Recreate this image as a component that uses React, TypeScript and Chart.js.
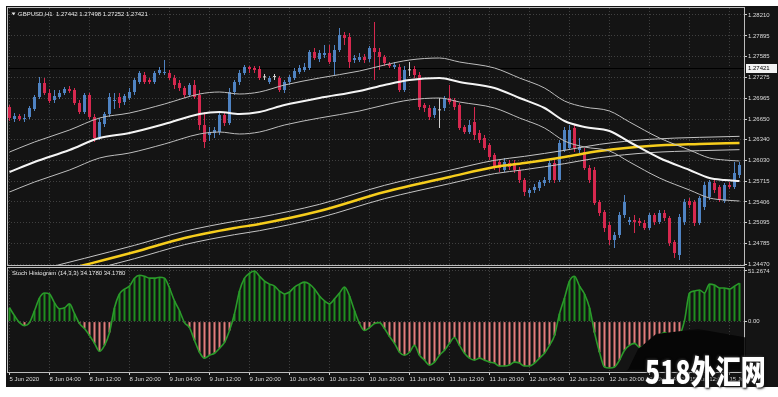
import React, { useEffect, useRef } from 'react';
import { Chart, registerables } from 'chart.js';

Chart.register(...registerables);

// ---------- DATA ----------
const symbolTitle = 'GBPUSD,H1  1.27442 1.27498 1.27252 1.27421';
const stochTitle = 'Stoch Histogram (14,3,3) 34.1780 34.1780';
const currentPrice = 1.27421;

const openPrices = [
  1.26830, 1.26650, 1.26695, 1.26650, 1.26680, 1.26800, 1.26980, 1.27190, 1.27040, 1.26935,
  1.26980, 1.27040, 1.27100, 1.27085, 1.26890, 1.26755, 1.27010, 1.26680, 1.26380, 1.26575,
  1.26725, 1.26920, 1.26980, 1.26905, 1.26965, 1.27055, 1.27205, 1.27310, 1.27235, 1.27205,
  1.27340, 1.27340, 1.27340, 1.27265, 1.27190, 1.27115, 1.27010, 1.27160, 1.27010, 1.26560,
  1.26410, 1.26440, 1.26455, 1.26710, 1.26590, 1.27055, 1.27205, 1.27340, 1.27430, 1.27415,
  1.27400, 1.27280, 1.27205, 1.27280, 1.27265, 1.27085, 1.27205, 1.27265, 1.27355, 1.27385,
  1.27415, 1.27655, 1.27550, 1.27610, 1.27640, 1.27505, 1.27685, 1.27910, 1.27880, 1.27535,
  1.27535, 1.27580, 1.27550, 1.27715, 1.27655, 1.27580, 1.27475, 1.27430, 1.27430, 1.27085,
  1.27385, 1.27400, 1.27310, 1.26860, 1.26815, 1.26710, 1.26785, 1.26815, 1.26965, 1.26935,
  1.26860, 1.26530, 1.26455, 1.26605, 1.26440, 1.26365, 1.26260, 1.26110, 1.26005, 1.25885,
  1.25990, 1.25990, 1.25885, 1.25735, 1.25540, 1.25585, 1.25615, 1.25690, 1.25735, 1.25990,
  1.25735, 1.26185, 1.26215, 1.26515, 1.26185, 1.26155, 1.25915, 1.25885, 1.25405, 1.25255,
  1.25060, 1.24835, 1.24910, 1.25210, 1.25105, 1.25135, 1.25120, 1.25090, 1.25015, 1.25210,
  1.25105, 1.25240, 1.25165, 1.24805, 1.24610, 1.25105, 1.25420, 1.25405, 1.25090, 1.25330,
  1.25480, 1.25690, 1.25630, 1.25420, 1.25660, 1.25630, 1.25810,
];
const highPrices = [
  1.26860, 1.26740, 1.26725, 1.26725, 1.26845, 1.27010, 1.27280, 1.27265, 1.27100, 1.27085,
  1.27085, 1.27130, 1.27145, 1.27115, 1.26935, 1.27040, 1.27040, 1.26725, 1.26665, 1.26755,
  1.27040, 1.27040, 1.27040, 1.27025, 1.27115, 1.27265, 1.27370, 1.27355, 1.27265, 1.27370,
  1.27430, 1.27535, 1.27385, 1.27310, 1.27235, 1.27145, 1.27190, 1.27235, 1.27085, 1.26755,
  1.26530, 1.26530, 1.26755, 1.26755, 1.27115, 1.27235, 1.27385, 1.27460, 1.27445, 1.27445,
  1.27445, 1.27325, 1.27295, 1.27325, 1.27295, 1.27235, 1.27310, 1.27415, 1.27460, 1.27490,
  1.27685, 1.27715, 1.27685, 1.27760, 1.27760, 1.27760, 1.28015, 1.27955, 1.27940, 1.27610,
  1.27640, 1.27625, 1.27745, 1.28105, 1.27715, 1.27610, 1.27505, 1.27505, 1.27475, 1.27445,
  1.27505, 1.27445, 1.27355, 1.26890, 1.26860, 1.26845, 1.26965, 1.26995, 1.27160, 1.26965,
  1.26890, 1.26560, 1.26635, 1.26830, 1.26485, 1.26410, 1.26290, 1.26140, 1.26035, 1.26065,
  1.26035, 1.26035, 1.25930, 1.25765, 1.25615, 1.25675, 1.25735, 1.25780, 1.26035, 1.26035,
  1.26335, 1.26530, 1.26560, 1.26560, 1.26365, 1.26215, 1.25960, 1.25930, 1.25435, 1.25285,
  1.25105, 1.24955, 1.25255, 1.25510, 1.25180, 1.25210, 1.25165, 1.25135, 1.25240, 1.25240,
  1.25285, 1.25285, 1.25195, 1.24835, 1.25225, 1.25450, 1.25465, 1.25435, 1.25495, 1.25705,
  1.25735, 1.25735, 1.25660, 1.25690, 1.25705, 1.26005, 1.26005,
];
const lowPrices = [
  1.26620, 1.26605, 1.26620, 1.26605, 1.26650, 1.26770, 1.26950, 1.27010, 1.26890, 1.26890,
  1.26950, 1.27010, 1.27040, 1.26860, 1.26725, 1.26725, 1.26650, 1.26305, 1.26335, 1.26530,
  1.26680, 1.26800, 1.26815, 1.26860, 1.26935, 1.27010, 1.27175, 1.27175, 1.27175, 1.27175,
  1.27310, 1.27310, 1.27235, 1.27100, 1.27070, 1.26965, 1.26980, 1.26950, 1.26485, 1.26215,
  1.26320, 1.26365, 1.26410, 1.26545, 1.26560, 1.27010, 1.27160, 1.27310, 1.27340, 1.27340,
  1.27235, 1.27235, 1.27175, 1.27235, 1.27055, 1.27040, 1.27160, 1.27235, 1.27325, 1.27355,
  1.27385, 1.27535, 1.27505, 1.27565, 1.27475, 1.27310, 1.27655, 1.27760, 1.27415, 1.27490,
  1.27505, 1.27490, 1.27505, 1.27235, 1.27385, 1.27445, 1.27415, 1.27400, 1.27055, 1.27055,
  1.27295, 1.27265, 1.26785, 1.26755, 1.26635, 1.26665, 1.26515, 1.26770, 1.26875, 1.26785,
  1.26485, 1.26425, 1.26425, 1.26335, 1.26290, 1.26185, 1.26035, 1.25885, 1.25855, 1.25855,
  1.25885, 1.25840, 1.25690, 1.25495, 1.25480, 1.25540, 1.25570, 1.25645, 1.25690, 1.25690,
  1.25705, 1.26155, 1.26185, 1.26155, 1.26140, 1.25885, 1.25690, 1.25360, 1.25195, 1.24955,
  1.24760, 1.24715, 1.24865, 1.25165, 1.25060, 1.24940, 1.25045, 1.24985, 1.24985, 1.25060,
  1.25075, 1.25120, 1.24745, 1.24565, 1.24535, 1.25060, 1.25315, 1.25045, 1.25060, 1.25285,
  1.25435, 1.25540, 1.25405, 1.25390, 1.25600, 1.25600, 1.25765,
];
const closePrices = [
  1.26665, 1.26695, 1.26650, 1.26665, 1.26815, 1.26980, 1.27190, 1.27040, 1.26920, 1.26995,
  1.27040, 1.27100, 1.27070, 1.26890, 1.26755, 1.27010, 1.26680, 1.26365, 1.26605, 1.26725,
  1.26980, 1.26935, 1.26890, 1.26995, 1.27055, 1.27235, 1.27340, 1.27205, 1.27205, 1.27340,
  1.27385, 1.27355, 1.27265, 1.27160, 1.27115, 1.27010, 1.27160, 1.26980, 1.26560, 1.26305,
  1.26455, 1.26485, 1.26710, 1.26590, 1.27055, 1.27205, 1.27340, 1.27430, 1.27400, 1.27385,
  1.27265, 1.27275, 1.27265, 1.27285, 1.27085, 1.27205, 1.27280, 1.27370, 1.27415, 1.27430,
  1.27655, 1.27565, 1.27640, 1.27640, 1.27505, 1.27685, 1.27910, 1.27865, 1.27505, 1.27565,
  1.27580, 1.27535, 1.27715, 1.27655, 1.27580, 1.27490, 1.27445, 1.27460, 1.27085, 1.27385,
  1.27380, 1.27310, 1.26830, 1.26815, 1.26680, 1.26815, 1.26780, 1.26965, 1.26905, 1.26830,
  1.26515, 1.26455, 1.26560, 1.26410, 1.26335, 1.26215, 1.26080, 1.25930, 1.25915, 1.26005,
  1.25930, 1.25885, 1.25735, 1.25555, 1.25585, 1.25630, 1.25705, 1.25735, 1.25990, 1.25735,
  1.26290, 1.26485, 1.26485, 1.26215, 1.26230, 1.25915, 1.25735, 1.25390, 1.25240, 1.25015,
  1.24835, 1.24910, 1.25210, 1.25405, 1.25135, 1.25105, 1.25090, 1.25015, 1.25210, 1.25105,
  1.25240, 1.25165, 1.24790, 1.24640, 1.25180, 1.25405, 1.25360, 1.25090, 1.25465, 1.25660,
  1.25705, 1.25585, 1.25435, 1.25660, 1.25630, 1.25840, 1.25960,
];

// Envelope around the fast moving average (bar index -> price)
const fastMaBars = [0, 5, 12, 18, 24, 31, 38, 42, 46, 50, 55, 62, 70, 75, 80, 86, 90, 97, 102, 107, 111, 115, 120, 124, 130, 136, 140, 143, 146];
const fastMa = [1.25855, 1.26005, 1.26185, 1.26365, 1.26440, 1.26575, 1.26725, 1.26755, 1.26725, 1.26755, 1.26860, 1.26965, 1.27070, 1.27160, 1.27235, 1.27265, 1.27205, 1.27115, 1.26965, 1.26815, 1.26620, 1.26530, 1.26470, 1.26305, 1.26065, 1.25885, 1.25765, 1.25735, 1.25720];
const fastUpper = [1.26155, 1.26305, 1.26485, 1.26665, 1.26740, 1.26875, 1.27025, 1.27055, 1.27025, 1.27055, 1.27160, 1.27265, 1.27370, 1.27460, 1.27535, 1.27565, 1.27505, 1.27415, 1.27265, 1.27115, 1.26920, 1.26830, 1.26770, 1.26605, 1.26365, 1.26185, 1.26065, 1.26035, 1.26020];
const fastLower = [1.25555, 1.25705, 1.25885, 1.26065, 1.26140, 1.26275, 1.26425, 1.26455, 1.26425, 1.26455, 1.26560, 1.26665, 1.26770, 1.26860, 1.26935, 1.26965, 1.26905, 1.26815, 1.26665, 1.26515, 1.26320, 1.26230, 1.26170, 1.26005, 1.25765, 1.25585, 1.25465, 1.25435, 1.25420];

// Envelope around the slow (yellow) moving average
const slowMaBars = [0, 15, 25, 35, 45, 50, 62, 75, 88, 97, 103, 111, 118, 128, 138, 146];
const slowMa = [1.24175, 1.24460, 1.24655, 1.24865, 1.25015, 1.25075, 1.25270, 1.25555, 1.25780, 1.25930, 1.25990, 1.26080, 1.26170, 1.26245, 1.26275, 1.26290];
const slowUpper = [1.24275, 1.24560, 1.24755, 1.24965, 1.25115, 1.25175, 1.25370, 1.25655, 1.25880, 1.26030, 1.26090, 1.26180, 1.26270, 1.26345, 1.26375, 1.26390];
const slowLower = [1.24075, 1.24360, 1.24555, 1.24765, 1.24915, 1.24975, 1.25170, 1.25455, 1.25680, 1.25830, 1.25890, 1.25980, 1.26070, 1.26145, 1.26175, 1.26190];

const stochValues = [
  14, 6, -1, -4, -1, 11, 24, 29, 28, 19,
  13, 14, 18, 8, -2, -7, -14, -22, -30, -24,
  -11, 14, 28, 33, 36, 44, 47, 46, 44, 44,
  45, 44, 34, 21, 11, -1, -6, -19, -31, -37,
  -34, -32, -27, -21, -9, 8, 31, 44, 49, 51.27,
  46, 41, 38, 36, 31, 28, 30, 35, 38, 40,
  38, 33, 26, 21, 18, 23, 29, 35, 26, 11,
  -2, -9, -6, -2, -1, -7, -15, -22, -31, -34,
  -31, -24, -34, -39, -44, -41, -34, -29, -22, -16,
  -24, -32, -37, -39, -37, -39, -41, -42, -45, -45,
  -44, -41, -42, -45, -45, -42, -37, -32, -24, -14,
  8, 24, 41, 46, 36, 28, 14, -11, -31, -46,
  -47, -46, -39, -29, -24, -22, -26, -24, -21, -17,
  -14, -11, -14, -17, -14, 1, 29, 31, 32, 29,
  38, 37, 34, 34, 33, 36, 39,
];

const priceTicks = [1.28210, 1.27895, 1.27585, 1.27275, 1.26965, 1.26650, 1.26340, 1.26030, 1.25715, 1.25406, 1.25095, 1.24785, 1.24470];
const stochTicks = [51.2674, 0];
const stochTickLabels = ['51.2674', '0.00'];
const timeLabelBars = [0, 8, 16, 24, 32, 40, 48, 56, 64, 72, 80, 88, 96, 104, 112, 120, 128, 136, 144];
const timeLabels = ['5 Jun 2020', '8 Jun 04:00', '8 Jun 12:00', '8 Jun 20:00', '9 Jun 04:00', '9 Jun 12:00', '9 Jun 20:00', '10 Jun 04:00', '10 Jun 12:00', '10 Jun 20:00', '11 Jun 04:00', '11 Jun 12:00', '11 Jun 20:00', '12 Jun 04:00', '12 Jun 12:00', '12 Jun 20:00', '15 Jun 04:00', '15 Jun 12:00', '15 Jun 20:00'];

// ---------- STYLE ----------
const BG = '#141414';
const FONT = '"Liberation Sans", Arial, sans-serif';
const BULL = '#4f83c2';
const BEAR = '#d6284f';
const DOJI = '#cfcfcf';
const GRID = 'rgba(100,100,100,0.55)';
const TEXT = '#dcdcdc';
const FRAME = '#bdbdbd';

export default function App() {
  const mainRef = useRef<HTMLCanvasElement>(null);
  const subRef = useRef<HTMLCanvasElement>(null);

  useEffect(() => {
    const xMin = -0.3;
    const xMax = 146.9;
    const tickFont = { family: FONT, size: 6 };
    const idx = openPrices.map((_, i) => i);

    const candleColors = idx.map((i) => {
      const o = openPrices[i];
      const c = closePrices[i];
      if (Math.abs(c - o) < 0.00006) return DOJI;
      return c >= o ? BULL : BEAR;
    });
    const bodyData = idx.map((i) => ({ x: i, y: [openPrices[i], closePrices[i]] }));
    const wickData = idx.map((i) => ({ x: i, y: [lowPrices[i], highPrices[i]] }));
    const pts = (bars: number[], vals: number[]) => bars.map((b, k) => ({ x: b, y: vals[k] }));

    const lineDs = (data: any, color: string, width: number) => ({
      type: 'line',
      data,
      borderColor: color,
      borderWidth: width,
      pointRadius: 0,
      cubicInterpolationMode: 'monotone',
      fill: false,
    });

    const frame = (chart: any) => {
      const { ctx, chartArea: a } = chart;
      ctx.save();
      ctx.strokeStyle = FRAME;
      ctx.lineWidth = 1;
      ctx.strokeRect(a.left - 0.5, a.top - 0.5, a.right - a.left + 1, a.bottom - a.top + 1);
      ctx.restore();
    };

    const mainDecor = {
      id: 'mainDecor',
      beforeDatasetsDraw(chart: any) {
        const { ctx, chartArea: a, scales } = chart;
        const py = Math.round(scales.y.getPixelForValue(currentPrice)) + 0.5;
        ctx.save();
        ctx.strokeStyle = '#000';
        ctx.lineWidth = 1;
        ctx.beginPath();
        ctx.moveTo(a.left, py);
        ctx.lineTo(a.right, py);
        ctx.stroke();
        ctx.restore();
      },
      afterDraw(chart: any) {
        const { ctx, chartArea: a, scales } = chart;
        frame(chart);
        ctx.save();
        ctx.fillStyle = '#e8e8e8';
        ctx.beginPath();
        ctx.moveTo(11.5, 12.5);
        ctx.lineTo(15.5, 12.5);
        ctx.lineTo(13.5, 15.2);
        ctx.closePath();
        ctx.fill();
        ctx.font = `6px ${FONT}`;
        ctx.textBaseline = 'alphabetic';
        ctx.textAlign = 'left';
        ctx.fillText(symbolTitle, 18, 16);
        const py = Math.round(scales.y.getPixelForValue(currentPrice));
        ctx.fillStyle = '#f2f2f2';
        ctx.fillRect(a.right + 2, py - 4, 31, 9);
        ctx.fillStyle = '#000';
        ctx.textBaseline = 'middle';
        ctx.fillText(currentPrice.toFixed(5), a.right + 4, py + 0.5);
        ctx.restore();
      },
    };

    const subDecor = {
      id: 'subDecor',
      afterDraw(chart: any) {
        const { ctx } = chart;
        frame(chart);
        ctx.save();
        ctx.fillStyle = '#e8e8e8';
        ctx.font = `6px ${FONT}`;
        ctx.textBaseline = 'alphabetic';
        ctx.textAlign = 'left';
        ctx.fillText(stochTitle, 12, 9);
        ctx.restore();
      },
    };

    const main = new Chart(mainRef.current as HTMLCanvasElement, {
      type: 'bar',
      data: {
        datasets: [
          lineDs(pts(fastMaBars, fastMa), '#f5f5f5', 2),
          lineDs(pts(fastMaBars, fastUpper), '#bdbdbd', 1),
          lineDs(pts(fastMaBars, fastLower), '#bdbdbd', 1),
          lineDs(pts(slowMaBars, slowMa), '#f6cd1c', 2.5),
          lineDs(pts(slowMaBars, slowUpper), '#c4c4c4', 1),
          lineDs(pts(slowMaBars, slowLower), '#c4c4c4', 1),
          {
            type: 'bar',
            data: bodyData,
            backgroundColor: candleColors,
            barThickness: 3,
            grouped: false,
            minBarLength: 1,
            inflateAmount: 0,
          },
          {
            type: 'bar',
            data: wickData,
            backgroundColor: candleColors,
            barThickness: 1,
            grouped: false,
            inflateAmount: 0,
          },
        ] as any,
      },
      options: {
        responsive: false,
        animation: false,
        events: [],
        layout: { padding: { left: 8, top: 8, right: 0, bottom: 1 } },
        plugins: { legend: { display: false }, tooltip: { enabled: false } },
        scales: {
          x: {
            type: 'linear',
            min: xMin,
            max: xMax,
            offset: false,
            afterBuildTicks: (s: any) => { s.ticks = timeLabelBars.map((v) => ({ value: v })); },
            afterFit: (s: any) => { s.height = 0; s.paddingLeft = 0; s.paddingRight = 0; },
            ticks: { display: false },
            grid: { color: GRID, drawTicks: false, offset: false },
            border: { display: false, dash: [1, 2] },
          },
          y: {
            position: 'right',
            min: 1.2446,
            max: 1.28315,
            beginAtZero: false,
            afterBuildTicks: (s: any) => { s.ticks = priceTicks.map((v) => ({ value: v })); },
            afterFit: (s: any) => { s.width = 34; s.paddingTop = 0; s.paddingBottom = 0; },
            ticks: {
              color: TEXT,
              font: tickFont,
              padding: 1,
              autoSkip: false,
              callback: (v: any) => Number(v).toFixed(5),
            },
            grid: { color: GRID, tickColor: '#cfcfcf', tickLength: 3, drawTicks: true },
            border: { display: false, dash: [1, 2] },
          },
        } as any,
      },
      plugins: [mainDecor],
    } as any);

    const stochColors = stochValues.map((v) => (v >= 0 ? '#1f8f1f' : '#e27c7c'));
    const stochData = idx.map((i) => ({ x: i, y: stochValues[i] }));

    const sub = new Chart(subRef.current as HTMLCanvasElement, {
      type: 'bar',
      data: {
        datasets: [
          {
            type: 'line',
            data: stochData,
            borderColor: '#2a9a2a',
            borderWidth: 1.6,
            pointRadius: 0,
            cubicInterpolationMode: 'monotone',
            fill: false,
          },
          {
            type: 'bar',
            data: stochData,
            backgroundColor: stochColors,
            barThickness: 2,
            grouped: false,
            inflateAmount: 0,
          },
        ] as any,
      },
      options: {
        responsive: false,
        animation: false,
        events: [],
        layout: { padding: { left: 8, top: 2, right: 0, bottom: 11 } },
        plugins: { legend: { display: false }, tooltip: { enabled: false } },
        scales: {
          x: {
            type: 'linear',
            min: xMin,
            max: xMax,
            offset: false,
            afterBuildTicks: (s: any) => { s.ticks = timeLabelBars.map((v) => ({ value: v })); },
            afterFit: (s: any) => { s.height = 14; s.paddingLeft = 0; s.paddingRight = 0; },
            ticks: {
              color: TEXT,
              font: tickFont,
              align: 'start',
              maxRotation: 0,
              minRotation: 0,
              autoSkip: false,
              padding: 1,
              callback: (_v: any, i: number) => timeLabels[i],
            },
            grid: { color: GRID, tickColor: '#cfcfcf', tickLength: 3, offset: false },
            border: { display: false, dash: [1, 2] },
          },
          y: {
            position: 'right',
            min: -51,
            max: 54.3,
            beginAtZero: false,
            afterBuildTicks: (s: any) => { s.ticks = stochTicks.map((v) => ({ value: v })); },
            afterFit: (s: any) => { s.width = 34; s.paddingTop = 0; s.paddingBottom = 0; },
            ticks: {
              color: TEXT,
              font: tickFont,
              padding: 1,
              autoSkip: false,
              callback: (_v: any, i: number) => stochTickLabels[i],
            },
            grid: { color: GRID, tickColor: '#cfcfcf', tickLength: 3, drawTicks: true },
            border: { display: false, dash: [1, 2] },
          },
        } as any,
      },
      plugins: [subDecor],
    } as any);

    return () => {
      main.destroy();
      sub.destroy();
    };
  }, []);

  return (
    <div style={{ position: 'fixed', left: 0, top: 0, width: 778, height: 397, background: '#ffffff', overflow: 'hidden' }}>
      <div style={{ position: 'absolute', left: 6, top: 6, width: 772, height: 381, background: BG }} />
      <canvas ref={mainRef} width={778} height={266} style={{ position: 'absolute', left: 0, top: 0, width: 778, height: 266 }} />
      <canvas ref={subRef} width={778} height={131} style={{ position: 'absolute', left: 0, top: 266, width: 778, height: 131 }} />
      <div
        style={{
          position: 'absolute',
          left: 626,
          top: 329,
          width: 120,
          height: 42,
          background: '#060606',
          clipPath: 'polygon(2% 95%, 10% 48%, 25% 12%, 60% 0%, 100% 20%, 100% 100%, 0% 100%)',
          filter: 'blur(1.5px)',
        }}
      />
      <div
        style={{
          position: 'absolute',
          left: 645,
          top: 354,
          fontFamily: '"Noto Sans CJK SC", "Noto Sans", sans-serif',
          fontWeight: 900,
          fontSize: 25,
          lineHeight: 1,
          color: '#ffffff',
          whiteSpace: 'nowrap',
          transform: 'scaleY(1.3)',
          transformOrigin: 'top left',
          textShadow: '0 0 2px #222, 1px 1px 2px #111, -1px -1px 2px #333',
        }}
      >
        518外汇网
      </div>
    </div>
  );
}
